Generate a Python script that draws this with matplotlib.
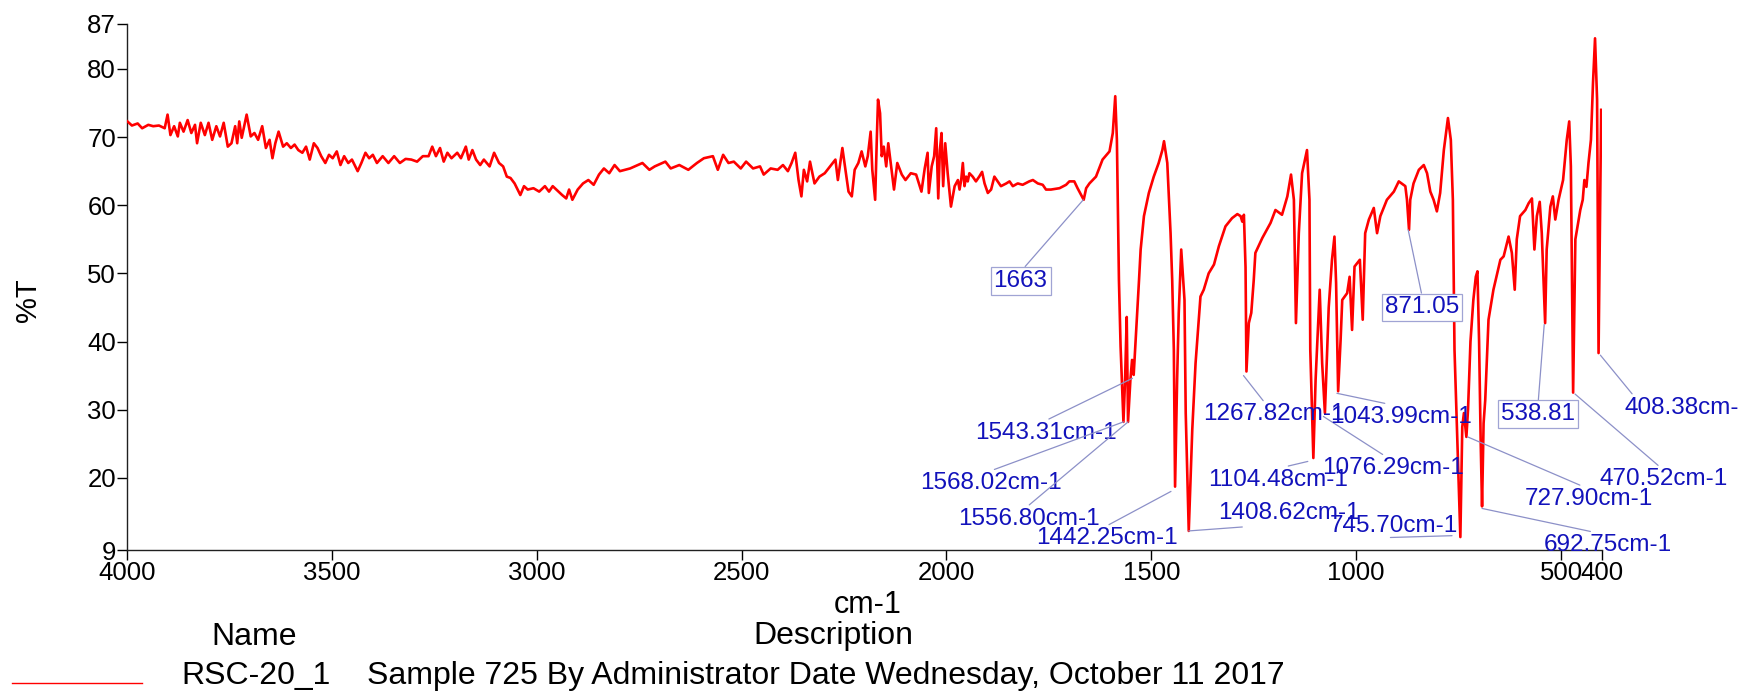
import matplotlib
matplotlib.use('Agg')
import matplotlib.pyplot as plt

plt.rcParams['font.family'] = ['Liberation Sans', 'DejaVu Sans']

# FTIR spectrum (cm-1, %T)
wavenumber = [
    3999, 3988, 3974, 3963, 3948, 3936, 3922, 3908, 3901, 3894, 3885, 3876, 3871, 3862, 3852, 3843,
    3834, 3829, 3820, 3810, 3801, 3792, 3782, 3773, 3764, 3754, 3745, 3736, 3731, 3726, 3720, 3708,
    3698, 3689, 3680, 3670, 3661, 3652, 3645, 3638, 3630, 3619, 3610, 3600, 3591, 3582, 3572, 3563,
    3554, 3544, 3535, 3526, 3516, 3507, 3498, 3488, 3479, 3470, 3460, 3451, 3437, 3428, 3418, 3409,
    3400, 3390, 3376, 3362, 3348, 3334, 3320, 3306, 3292, 3278, 3264, 3255, 3246, 3236, 3227, 3218,
    3208, 3194, 3185, 3173, 3166, 3157, 3148, 3138, 3129, 3115, 3104, 3092, 3082, 3073, 3064, 3054,
    3040, 3031, 3022, 3008, 2994, 2980, 2970, 2961, 2947, 2938, 2928,
    2921, 2913, 2900, 2887, 2874, 2861, 2848, 2836, 2823, 2810, 2797, 2772, 2742, 2725, 2712, 2686,
    2673, 2652, 2630, 2609, 2592, 2570, 2558, 2545, 2532, 2519, 2502, 2489, 2472, 2455, 2446, 2429,
    2412, 2399, 2387, 2378, 2369, 2361, 2354, 2348, 2340, 2333, 2322, 2310, 2297, 2284, 2271, 2265,
    2254, 2245, 2239, 2231, 2224, 2215, 2207, 2198, 2192, 2185, 2181, 2174, 2170, 2167, 2162, 2158,
    2153, 2147, 2142, 2134, 2128, 2120, 2109, 2100, 2087, 2074, 2061, 2053, 2046, 2043, 2036, 2030,
    2025, 2020, 2016, 2012, 2008, 2003, 1997, 1989, 1980, 1972,
    1968, 1964, 1960, 1956, 1952, 1948, 1944, 1936, 1928, 1920, 1913, 1907, 1899, 1891, 1883, 1875,
    1867, 1854, 1846, 1838, 1826, 1814, 1798, 1789, 1777, 1765, 1757, 1745, 1724, 1708, 1700, 1688,
    1680, 1665, 1659, 1651, 1635, 1619, 1602, 1594, 1588, 1584,
    1579, 1575, 1568, 1564, 1560, 1556.8, 1551, 1547, 1543, 1539, 1530, 1526, 1518, 1506, 1494, 1482,
    1473, 1469, 1461, 1453, 1449, 1445, 1442, 1437, 1433, 1427, 1419, 1416, 1408.6, 1400, 1392, 1380,
    1372, 1360, 1347, 1335, 1319, 1303, 1290, 1282, 1278, 1274, 1270, 1267.8, 1262, 1256, 1250, 1246,
    1229, 1209, 1197, 1181, 1168, 1159, 1152, 1147, 1140, 1132, 1120, 1114, 1112, 1104.5, 1099, 1089,
    1083, 1076.3, 1067, 1059, 1053, 1049, 1044, 1038, 1034, 1022, 1016, 1010, 1004, 991, 984, 978,
    969, 957, 949, 941, 925, 908, 896, 880, 876, 871, 868, 860, 847, 835, 827, 819,
    811, 803, 795, 786, 776, 769, 764, 760, 745.7, 741, 737, 731, 727, 721, 714, 708,
    704, 700, 696, 692.75, 689, 685, 677, 665, 648, 640, 628, 620, 613, 608, 600, 587,
    579, 571, 565, 559, 552, 547, 538.8, 535, 526, 520, 514, 506, 495, 486, 480, 476,
    470.5, 465, 453, 447, 443, 438, 433, 427, 422, 417, 412, 408.4, 402,
]
transmittance = [
    72.3, 71.7, 72.0, 71.3, 71.8, 71.6, 71.7, 71.3, 73.3, 70.3, 71.6, 70.1, 72.1, 70.8, 72.5, 70.6,
    71.8, 69.1, 72.1, 70.3, 72.1, 69.6, 71.6, 70.1, 72.1, 68.6, 69.1, 71.6, 69.1, 72.3, 69.9, 73.3,
    70.1, 70.6, 69.6, 71.6, 68.4, 69.6, 66.9, 69.1, 70.8, 68.6, 69.1, 68.4, 68.9, 68.1, 67.7, 68.6,
    66.7, 69.1, 68.4, 67.2, 66.2, 67.4, 66.9, 67.9, 65.9, 67.2, 66.2, 66.7, 65.0, 66.2, 67.7, 66.9,
    67.4, 66.2, 67.2, 66.2, 67.2, 66.2, 66.8, 66.7, 66.4, 67.2, 67.2, 68.6, 67.2, 68.4, 66.4, 67.7,
    66.9, 67.7, 66.9, 68.6, 66.7, 68.1, 66.7, 65.9, 66.7, 65.7, 67.7, 66.2, 65.7, 64.2, 64.0, 63.2,
    61.5, 62.8, 62.3, 62.5, 62.0, 62.8, 62.0, 62.8, 62.0, 61.5, 61.0,
    62.3, 60.8, 62.3, 63.2, 63.7, 63.0, 64.5, 65.4, 64.7, 65.9, 65.0, 65.4, 66.2, 65.2, 65.7, 66.4,
    65.4, 65.9, 65.2, 66.2, 66.9, 67.2, 65.2, 67.4, 66.2, 66.4, 65.4, 66.4, 65.4, 65.7, 64.5, 65.4,
    65.2, 65.9, 65.0, 66.2, 67.7, 63.7, 61.3, 65.2, 63.5, 66.4, 63.2, 64.2, 64.7, 65.7, 66.7, 63.7,
    68.4, 64.5, 62.0, 61.3, 65.2, 66.2, 67.9, 65.7, 67.2, 70.8, 65.2, 60.8, 69.6, 75.5, 73.5, 67.2,
    68.6, 65.7, 69.1, 65.2, 62.3, 66.2, 64.5, 63.7, 64.7, 64.5, 62.0, 65.4, 67.7, 61.8, 65.7, 67.2,
    71.3, 61.0, 68.1, 70.6, 62.8, 69.1, 64.7, 59.8, 62.8, 63.7,
    62.3, 63.7, 66.2, 62.8, 64.2, 63.5, 64.7, 64.2, 63.5, 64.2, 64.9, 63.2, 61.8, 62.3, 64.2, 63.5,
    62.8, 63.2, 63.5, 62.8, 63.2, 63.0, 63.5, 63.7, 63.2, 63.0, 62.3, 62.3, 62.5, 63.0, 63.5, 63.5,
    62.5, 60.8, 62.5, 63.2, 64.2, 66.7, 67.9, 70.6, 76.0, 69.6,
    49.0, 39.3, 28.2, 34.4, 43.6, 28.2, 34.4, 37.3, 35.1, 39.3, 49.0, 53.5, 58.4, 61.8, 64.2, 66.2,
    68.1, 69.4, 66.2, 55.9, 49.0, 38.8, 18.7, 34.4, 44.2, 53.5, 46.1, 29.5, 12.2, 27.1, 36.8, 46.6,
    47.6, 50.0, 51.3, 54.0, 56.9, 58.1, 58.7, 58.4, 57.6, 58.6, 50.9, 35.6, 42.7, 44.2, 49.0, 53.0,
    55.2, 57.4, 59.3, 58.6, 61.3, 64.5, 60.8, 42.7, 55.9, 64.7, 68.1, 60.8, 38.8, 22.9, 34.4, 47.6,
    36.8, 29.5, 45.0, 52.0, 55.4, 48.6, 32.7, 40.2, 46.1, 47.1, 49.5, 41.7, 51.0, 52.0, 43.2, 55.9,
    57.9, 59.6, 55.9, 58.4, 60.8, 62.0, 63.5, 62.8, 60.8, 56.4, 60.8, 63.2, 65.2, 65.9, 64.7, 62.0,
    60.8, 59.1, 61.8, 68.1, 72.8, 69.6, 60.8, 38.8, 11.3, 27.5, 29.5, 26.0, 30.0, 40.0, 46.1, 49.5,
    50.3, 40.0, 25.0, 15.8, 28.0, 31.4, 43.2, 47.6, 52.0, 52.5, 55.4, 53.0, 47.6, 55.0, 58.4, 59.3,
    60.3, 61.0, 53.5, 58.4, 60.5, 55.9, 42.7, 53.5, 59.8, 61.3, 57.9, 60.8, 63.7, 69.6, 72.3, 65.7,
    32.5, 55.0, 59.3, 60.8, 63.7, 62.7, 66.2, 69.6, 77.9, 84.5, 75.5, 38.3, 74.0,
]

x_ticks = [4000, 3500, 3000, 2500, 2000, 1500, 1000, 500, 400]
y_ticks = [9.4, 20, 30, 40, 50, 60, 70, 80, 86.6]
y_tick_labels = ['9', '20', '30', '40', '50', '60', '70', '80', '87']

# peak picks: label, cm-1, %T at the pointer end
peak_labels = ['1663', '1543.31cm-1', '1568.02cm-1', '1556.80cm-1', '1442.25cm-1',
               '1408.62cm-1', '1267.82cm-1', '1104.48cm-1', '1076.29cm-1', '1043.99cm-1',
               '871.05', '745.70cm-1', '727.90cm-1', '692.75cm-1', '538.81',
               '470.52cm-1', '408.38cm-1']
peak_wn = [1666, 1546, 1568.02, 1556.8, 1452, 1408.62, 1275, 1118, 1080, 1047,
           873, 766, 727.9, 692.75, 541, 466, 404]
peak_t = [60.8, 34.6, 28.2, 28.2, 18.0, 12.2, 35.0, 22.4, 29.0, 32.4,
          56.4, 11.5, 26.0, 15.5, 42.5, 32.3, 38.0]

sample_name = 'RSC-20_1'
sample_desc = 'Sample 725 By Administrator Date Wednesday, October 11 2017'

# label placement (text x, text y in data units, line anchor on text box)
label_pos = [
    (1819, 48.9, (0.53, 1)), (1757, 26.6, (0.48, 1)), (1891, 19.2, (0.47, 1)),
    (1799, 14.0, (0.48, 1)), (1609, 11.1, (0.48, 1)), (1165, 14.8, (0.44, 0)),
    (1201, 29.3, (0.44, 1)), (1191, 19.7, (0.49, 1)), (911, 21.4, (0.46, 1)),
    (891, 28.9, (0.48, 1)), (839, 45.0, (0.5, 1)), (907, 12.85, (0.47, 0)),
    (432, 16.9, (0.48, 1)), (387, 10.1, (0.47, 1)), (556, 29.3, (0.5, 1)),
    (249, 19.8, (0.48, 1)), (346, 30.3, (0.08, 1)),
]

W, H = 1739, 697
fig = plt.figure(figsize=(W / 100, H / 100), dpi=100)
ax = fig.add_axes([127 / W, 1 - 550 / H, (1602 - 127) / W, (550 - 24) / H])

ax.plot(wavenumber, transmittance, color='#ff0000', lw=1.9, zorder=3)
ax.set_xlim(4000, 400)
ax.set_ylim(9.4, 86.6)
ax.set_xticks(x_ticks)
ax.set_xticklabels([str(v) for v in x_ticks])
ax.set_yticks(y_ticks)
ax.set_yticklabels(y_tick_labels)
ax.tick_params(direction='out', length=7, width=1, labelsize=18.5, pad=1, colors='black')
for s in ['top', 'right']:
    ax.spines[s].set_visible(False)
for s in ['left', 'bottom']:
    ax.spines[s].set_linewidth(1)
    ax.spines[s].set_color('#202020')

line_col = '#8c90c8'
text_col = '#1212bb'
for lab, pw, pt, (tx, ty, rp) in zip(peak_labels, peak_wn, peak_t, label_pos):
    boxed = 'cm' not in lab
    ha = 'left' if lab.startswith('408') else 'center'
    kw = {}
    if boxed:
        kw['bbox'] = dict(boxstyle='square,pad=0.12', fc='white', ec='#a0a4d4', lw=0.9)
    ax.annotate(lab, xy=(pw, pt), xytext=(tx, ty), textcoords='data',
                ha=ha, va='center', fontsize=17.5, color=text_col,
                annotation_clip=False, zorder=4,
                arrowprops=dict(arrowstyle='-', color=line_col, lw=0.9,
                                shrinkA=0, shrinkB=0, relpos=rp),
                **kw)

fig.text(28 / W, 1 - 300 / H, '%T', rotation=90, ha='center', va='center', fontsize=21)
fig.text(868 / W, 1 - 605 / H, 'cm-1', ha='center', va='center', fontsize=22)
fig.text(833 / W, 1 - 636 / H, 'Description', ha='center', va='center', fontsize=23)
fig.text(254 / W, 1 - 637 / H, 'Name', ha='center', va='center', fontsize=23)
fig.text(181 / W, 1 - 676 / H, sample_name, ha='left', va='center', fontsize=23)
fig.text(367 / W, 1 - 676 / H, sample_desc, ha='left', va='center', fontsize=23)
fig.add_artist(plt.Line2D([12 / W, 142 / W], [1 - 683 / H, 1 - 683 / H],
                          color='#ff0000', lw=1.0))

fig.savefig('out.png', dpi=100)
